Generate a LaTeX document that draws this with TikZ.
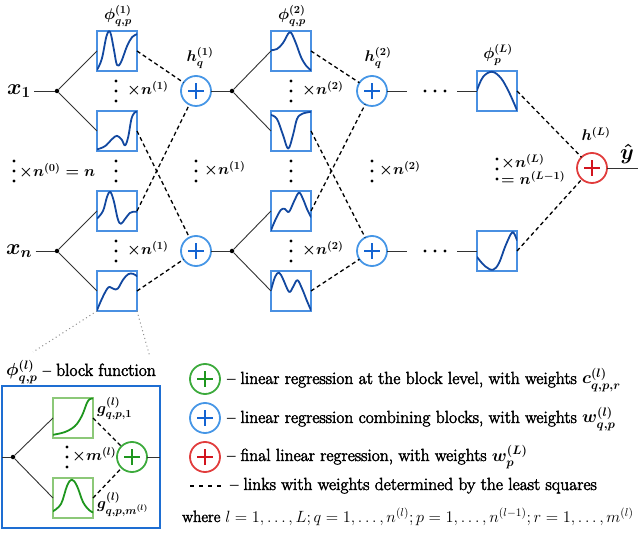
\RequirePackage{fix-cm}
\documentclass[tikz,border=0pt]{standalone}
\usepackage{amsmath,bm}
\usepackage{fontspec}
\setmainfont{Latin Modern Roman}[FakeBold=2.5]
\definecolor{boxblue}{RGB}{74,144,226}
\definecolor{curveblue}{RGB}{18,72,160}
\definecolor{sumblue}{RGB}{70,150,230}
\definecolor{plusblue}{RGB}{20,100,210}
\definecolor{gboxc}{RGB}{140,200,120}
\definecolor{gcurve}{RGB}{30,150,30}
\definecolor{sumgreen}{RGB}{60,170,60}
\definecolor{plusgreen}{RGB}{30,150,30}
\definecolor{sumred}{RGB}{225,60,60}
\definecolor{plusred}{RGB}{210,20,30}
\definecolor{insetblue}{RGB}{30,110,210}
\newcommand\bcurve[3]{%
  \begin{scope}[shift={(#1.south west)}, x=40pt, y=40pt]
    \clip (0,0) rectangle (1,1);
    \draw[#2] plot[smooth, tension=0.6] coordinates {#3};
  \end{scope}}
\begin{document}
\begin{tikzpicture}[x=1pt,y=-1pt, font=\fontsize{15.5}{18}\selectfont\boldmath,
  ln/.style={draw=black!80, line width=0.9pt},
  dsh/.style={draw=black, line width=1.3pt, dash pattern=on 4pt off 3pt},
  dotl/.style={draw=black!45, line width=1pt, dash pattern=on 1pt off 3pt},
  blk/.style={draw=boxblue, line width=1.4pt, minimum size=40pt, inner sep=0, outer sep=0},
  gblk/.style={blk, draw=gboxc},
  jn/.style={circle, fill=black, minimum size=4.5pt, inner sep=0},
  sumc/.style n args={2}{circle, draw=#1, line width=1.8pt, minimum size=30pt, inner sep=0, outer sep=0,
    path picture={\draw[#2, line width=2.4pt]
      ([xshift=-8pt]path picture bounding box.center) -- ([xshift=8pt]path picture bounding box.center)
      ([yshift=-8pt]path picture bounding box.center) -- ([yshift=8pt]path picture bounding box.center);}},
  crv/.style={draw=curveblue, line width=1.8pt, line join=round, line cap=round},
  gcrv/.style={crv, draw=gcurve},
  vdts/.pic={\fill (0,-10) circle[radius=1.7pt] (0,0) circle[radius=1.7pt] (0,10) circle[radius=1.7pt];},
  hdts/.pic={\fill (-10,0) circle[radius=1.7pt] (0,0) circle[radius=1.7pt] (10,0) circle[radius=1.7pt];},
  lbl/.style={anchor=west, inner sep=1pt},
  big/.style={font=\fontsize{22}{26}\selectfont\boldmath},
  leg/.style={anchor=base west, inner sep=0, font=\fontsize{17.5}{21}\selectfont\boldmath}
]
\useasboundingbox (0,0) rectangle (640,534);

% ---------- layer 1 ----------
\node[big] (x1) at (19,91) {$\bm{x}_1$};
\node[big] (xn) at (19,251) {$\bm{x}_n$};
\node[jn] (d11) at (57,91) {};
\node[jn] (d12) at (57,251) {};
\node[blk] (b11) at (117,51) {};
\node[blk] (b12) at (117,131) {};
\node[blk] (b13) at (117,211) {};
\node[blk] (b14) at (117,291) {};
\node[sumc={sumblue}{plusblue}] (s11) at (196,91) {};
\node[sumc={sumblue}{plusblue}] (s12) at (196,251) {};
\node (p1) at (118,16) {$\phi^{(1)}_{q,p}$};
\node (h1) at (200,58) {$h^{(1)}_q$};

\pic at (14,171) {vdts};
\node[lbl] (l0) at (18,171) {$\times n^{(0)} = n$};
\pic at (116,91) {vdts};
\node[lbl] (l11) at (126,89) {$\times n^{(1)}$};
\pic at (116,171) {vdts};
\pic at (116,251) {vdts};
\node[lbl] (l12) at (126,249) {$\times n^{(1)}$};
\pic at (196,171) {vdts};
\node[lbl] (l13) at (203,169) {$\times n^{(1)}$};

\draw[ln] (x1) -- (d11);
\draw[ln] (d11) -- (b11.west);
\draw[ln] (d11) -- (b12.west);
\draw[ln] (xn) -- (d12);
\draw[ln] (d12) -- (b13.west);
\draw[ln] (d12) -- (b14.west);
\draw[dsh] (b11.east) -- (s11);
\draw[dsh] (b12.east) -- (s12);
\draw[dsh] (b13.east) -- (s11);
\draw[dsh] (b14.east) -- (s12);

\bcurve{b11}{crv}{(0,0.03) (0.12,0.3) (0.24,0.88) (0.33,0.97) (0.42,0.55) (0.5,0.15) (0.6,0.22) (0.75,0.62) (0.88,0.85) (1,0.92)}
\bcurve{b12}{crv}{(0,0.04) (0.2,0.12) (0.38,0.3) (0.5,0.38) (0.62,0.28) (0.7,0.14) (0.78,0.35) (0.86,0.8) (0.94,0.96) (1,0.98)}
\bcurve{b13}{crv}{(0,0.31) (0.15,0.5) (0.25,0.85) (0.33,0.98) (0.42,0.75) (0.52,0.3) (0.6,0.18) (0.7,0.3) (0.82,0.45) (0.9,0.48) (1,0.48)}
\bcurve{b14}{crv}{(0,0.02) (0.12,0.3) (0.25,0.55) (0.32,0.6) (0.42,0.55) (0.52,0.56) (0.65,0.78) (0.78,0.92) (0.9,0.93) (1,0.87)}

% ---------- layer 2 ----------
\node[jn] (d21) at (232,91) {};
\node[jn] (d22) at (232,251) {};
\node[blk] (b21) at (291,51) {};
\node[blk] (b22) at (291,131) {};
\node[blk] (b23) at (291,211) {};
\node[blk] (b24) at (291,291) {};
\node[sumc={sumblue}{plusblue}] (s21) at (372,91) {};
\node[sumc={sumblue}{plusblue}] (s22) at (372,251) {};
\node (p2) at (292,16) {$\phi^{(2)}_{q,p}$};
\node (h2) at (378,58) {$h^{(2)}_q$};

\pic at (291,91) {vdts};
\node[lbl] (l21) at (301,89) {$\times n^{(2)}$};
\pic at (291,171) {vdts};
\pic at (291,251) {vdts};
\node[lbl] (l22) at (301,249) {$\times n^{(2)}$};
\pic at (372,171) {vdts};
\node[lbl] (l23) at (378,169) {$\times n^{(2)}$};

\draw[ln] (s11) -- (d21);
\draw[ln] (s12) -- (d22);
\draw[ln] (d21) -- (b21.west);
\draw[ln] (d21) -- (b22.west);
\draw[ln] (d22) -- (b23.west);
\draw[ln] (d22) -- (b24.west);
\draw[dsh] (b21.east) -- (s21);
\draw[dsh] (b22.east) -- (s22);
\draw[dsh] (b23.east) -- (s21);
\draw[dsh] (b24.east) -- (s22);

\bcurve{b21}{crv}{(0,0.52) (0.15,0.55) (0.3,0.7) (0.47,0.97) (0.6,0.75) (0.75,0.35) (0.88,0.13) (1,0.02)}
\bcurve{b22}{crv}{(0,0.9) (0.15,0.8) (0.3,0.4) (0.43,0.06) (0.55,0.4) (0.65,0.8) (0.78,0.93) (1,0.98)}
\bcurve{b23}{crv}{(0,0.02) (0.12,0.3) (0.25,0.53) (0.35,0.55) (0.45,0.48) (0.58,0.75) (0.7,0.96) (0.8,0.8) (0.9,0.55) (1,0.35)}
\bcurve{b24}{crv}{(0,0.52) (0.1,0.85) (0.2,0.96) (0.3,0.8) (0.45,0.48) (0.55,0.6) (0.66,0.77) (0.78,0.55) (0.9,0.25) (1,0.02)}

% ---------- last layer ----------
\coordinate (e21) at (407,91);
\coordinate (f21) at (457,91);
\coordinate (e22) at (407,251);
\coordinate (f22) at (457,251);
\pic at (435,91) {hdts};
\pic at (435,251) {hdts};
\node[blk] (bL1) at (497,91) {};
\node[blk] (bL2) at (497,251) {};
\node[sumc={sumred}{plusred}] (sf) at (592,168) {};
\coordinate (yo) at (638,168);
\node (pL) at (498,55) {$\phi^{(L)}_{p}$};
\node[inner sep=1pt] (hL) at (596,134) {$h^{(L)}$};
\node[big, inner sep=1pt] (yh) at (627,154) {$\hat{\bm{y}}$};
\pic at (497,169) {vdts};
\node[lbl] (lL1) at (500,162) {$\times n^{(L)}$};
\node[lbl] (lL2) at (500,178) {$= n^{(L-1)}$};

\draw[ln] (s21) -- (e21);
\draw[ln] (f21) -- (bL1.west);
\draw[ln] (s22) -- (e22);
\draw[ln] (f22) -- (bL2.west);
\draw[dsh] (bL1.east) -- (sf);
\draw[dsh] (bL2.east) -- (sf);
\draw[ln] (sf) -- (yo);

\bcurve{bL1}{crv}{(0,0.52) (0.15,0.85) (0.375,0.98) (0.6,0.82) (0.8,0.47) (1,0.02)}
\bcurve{bL2}{crv}{(0,0.35) (0.2,0.12) (0.4,0.03) (0.55,0.2) (0.7,0.6) (0.85,0.93) (0.92,0.95) (1,0.77)}

% ---------- inset ----------
\coordinate (z1) at (33,352);
\coordinate (z2) at (150,357);
\draw[dotl] (b14.south west) -- (z1);
\draw[dotl] (b14.south east) -- (z2);
\node[font=\fontsize{17.5}{21}\selectfont\boldmath] (bf) at (81,372) {$\phi^{(l)}_{q,p}$ -- block function};
\node[draw=insetblue, line width=2.4pt, minimum width=158pt, minimum height=142pt, inner sep=0, outer sep=0] (ib) at (81,457) {};
\node[jn] (gd) at (13,457) {};
\node[gblk] (g1) at (73,418) {};
\node[gblk] (g2) at (73,498) {};
\node[sumc={sumgreen}{plusgreen}] (gs) at (132,457) {};
\pic at (67,457) {vdts};
\node[lbl] (lm) at (71,455) {$\times m^{(l)}$};
\node[lbl] (gl1) at (96,408) {$g^{(l)}_{q,p,1}$};
\node[lbl] (gl2) at (96,504) {$g^{(l)}_{q,p,m^{(l)}}$};
\draw[ln] (ib.west) -- (gd);
\draw[ln] (gd) -- (g1.west);
\draw[ln] (gd) -- (g2.west);
\draw[dsh] (g1.east) -- (gs);
\draw[dsh] (g2.east) -- (gs);
\draw[ln] (gs) -- (ib.east);
\bcurve{g1}{gcrv}{(0,0.08) (0.3,0.15) (0.55,0.3) (0.72,0.55) (0.85,0.88) (0.92,0.97) (1,0.99)}
\bcurve{g2}{gcrv}{(0,0.17) (0.2,0.35) (0.35,0.8) (0.47,0.96) (0.6,0.8) (0.75,0.4) (0.9,0.2) (1,0.14)}

% ---------- legend ----------
\node[sumc={sumgreen}{plusgreen}] (lg1) at (205,379) {};
\node[sumc={sumblue}{plusblue}] (lg2) at (205,418) {};
\node[sumc={sumred}{plusred}] (lg3) at (205,457) {};
\node[leg] (t1) at (227,384) {-- linear regression at the block level, with weights $c^{(l)}_{q,p,r}$};
\node[leg] (t2) at (227,423) {-- linear regression combining blocks, with weights $w^{(l)}_{q,p}$};
\node[leg] (t3) at (227,461) {-- final linear regression, with weights $w^{(L)}_{p}$};
\coordinate (ds1) at (190,486);
\coordinate (ds2) at (224,486);
\draw[dsh, dash pattern=on 4pt off 5pt] (ds1) -- (ds2);
\node[leg] (t4) at (230,490) {-- links with weights determined by the least squares};
\node[leg, font=\fontsize{16.3}{20}\selectfont\unboldmath] (t5) at (182,522) {where $l=1,\dots,L; q=1,\dots,n^{(l)}; p=1,\dots,n^{(l-1)}; r=1,\dots,m^{(l)}$};
\end{tikzpicture}
\end{document}
